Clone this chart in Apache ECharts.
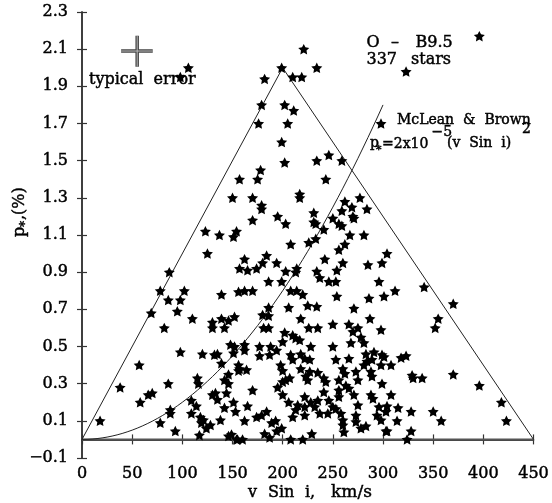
<!DOCTYPE html>
<html><head><meta charset="utf-8">
<script src="https://cdn.jsdelivr.net/npm/echarts@6/dist/echarts.min.js"></script>
<style>html,body{margin:0;padding:0;background:#fff}#c{width:552px;height:503px}</style>
</head><body><div id="c"></div>
<script>
// ---- data ----
const xTicks = [0,50,100,150,200,250,300,350,400,450];
const yTicks = [-0.1,0.1,0.3,0.5,0.7,0.9,1.1,1.3,1.5,1.7,1.9,2.1,2.3];
const triangle = [[0,0],[200,2.0],[450,0]];
const baseline = [[0,0],[450,0]];
const mcleanCoef = 2e-5;         // p* = 2x10^-5 (v sin i)^2
const mcleanVmax = 300;
const errH = [[39,2.09],[70.5,2.09]];
const errV = [[55,2.006],[55,2.172]];
const starPoints = [
[106,2.0],[98,1.95],
[221,2.1],[199,2.0],[234,2.0],[182,1.94],[210,1.95],[219,1.95],[179,1.80],[202,1.80],[211,1.77],[176,1.70],[205,1.70],[199,1.60],[298,1.70],[234,1.50],[246,1.53],[259,1.50],[202,1.49],
[396,2.17],[323,1.98],
[157,1.40],[150,1.30],[123,1.12],[137,1.10],[154,1.12],[151,1.09],[125,1.0],[157,0.92],[87,0.90],[78,0.80],[102,0.80],[86,0.75],[98,0.75],[139,0.78],[156,0.795],
[178,1.45],[175,1.40],[243,1.40],[170,1.30],[179,1.26],[179,1.24],[217,1.32],[217,1.30],[170,1.18],[195,1.20],[203,1.16],[231,1.22],[231,1.17],[233,1.16],[262,1.28],[269,1.25],[277,1.30],[284,1.24],[259,1.23],[270,1.20],[271,1.19],[250,1.19],[256,1.16],[259,1.15],[241,1.13],[233,1.08],[226,1.06],[208,1.05],[267,1.10],[281,1.10],[262,1.05],[256,1.02],[304,1.0],[184,0.99],[162,0.97],[180,0.95],[174,0.92],[194,0.95],[242,0.97],[260,0.95],[254,0.91],[214,0.92],[213,0.90],[203,0.905],[234,0.905],[237,0.87],[246,0.85],[253,0.85],[285,0.94],[299,0.95],[296,0.85],[186,0.85],[199,0.85],[165,0.91],[162,0.80],[170,0.80],[208,0.80],[214,0.80],[220,0.78],[254,0.77],[286,0.76],[301,0.77],[186,0.71],[206,0.71],[225,0.72],[234,0.715],[271,0.705],
[312,0.80],[341,0.82],[370,0.73],
[69,0.68],[95,0.69],[110,0.65],[130,0.63],[130,0.60],[139,0.65],[146,0.64],[152,0.66],[142,0.60],[82,0.60],[98,0.47],[120,0.46],[132,0.455],[135,0.46],[148,0.51],[152,0.50],[151,0.465],[139,0.41],[156,0.40],[146,0.35],[142,0.32],[146,0.30],[57,0.40],[38,0.28],[58,0.20],[66,0.24],[70,0.25],[86,0.30],[115,0.33],[116,0.30],[109,0.21],[114,0.18],[130,0.24],[133,0.25],[135,0.215],[144,0.25],[151,0.20],[142,0.17],[153,0.15],[88,0.16],[88,0.14],[109,0.14],[118,0.12],[119,0.09],[121,0.105],[128,0.077],[124,0.06],[138,0.104],[78,0.09],[93,0.045],[117,0.023],[146,0.018],[149,0.027],[155,0.0],[18,0.10],[156,0.37],
[180,0.67],[186,0.665],[218,0.65],[250,0.62],[266,0.62],[287,0.65],[181,0.60],[186,0.60],[226,0.60],[235,0.60],[275,0.60],[298,0.59],[270,0.58],[202,0.575],[210,0.56],[213,0.545],[217,0.535],[200,0.525],[278,0.55],[281,0.52],[162,0.51],[162,0.48],[177,0.50],[188,0.50],[194,0.48],[177,0.45],[187,0.455],[208,0.455],[218,0.46],[228,0.50],[222,0.435],[210,0.43],[227,0.43],[250,0.50],[268,0.52],[283,0.46],[291,0.47],[299,0.455],[253,0.43],[266,0.435],[284,0.42],[289,0.43],[298,0.40],[281,0.40],[157,0.38],[164,0.375],[198,0.40],[200,0.37],[218,0.38],[227,0.365],[235,0.36],[260,0.38],[262,0.355],[273,0.365],[288,0.365],[289,0.34],[275,0.32],[256,0.32],[223,0.34],[225,0.32],[241,0.33],[243,0.31],[200,0.31],[207,0.33],[203,0.32],[263,0.29],[299,0.30],[195,0.28],[170,0.265],[200,0.24],[222,0.23],[241,0.255],[256,0.265],[266,0.275],[271,0.24],[256,0.23],[288,0.24],[290,0.22],[206,0.20],[215,0.185],[222,0.175],[228,0.20],[235,0.21],[246,0.21],[250,0.175],[232,0.175],[213,0.16],[222,0.13],[210,0.12],[237,0.14],[245,0.14],[253,0.165],[258,0.14],[260,0.104],[261,0.04],[260,0.077],[275,0.185],[273,0.13],[273,0.095],[278,0.06],[283,0.072],[296,0.175],[294,0.13],[298,0.104],[303,0.15],[303,0.045],[165,0.18],[162,0.10],[174,0.12],[179,0.13],[184,0.15],[193,0.10],[189,0.09],[199,0.06],[194,0.045],[182,0.03],[187,0.01],[208,0.0],[220,0.0],[229,0.03],[160,0.0],
[154,0.0],[324,0.0],
[355,0.65],[352,0.60],[318,0.44],[323,0.45],[308,0.40],[301,0.445],[329,0.345],[330,0.33],[339,0.33],[370,0.35],[396,0.29],[308,0.24],[304,0.18],[315,0.17],[328,0.15],[350,0.15],[314,0.10],[358,0.10],[304,0.045],[328,0.045],[418,0.20],[423,0.10]
];

// model curve from the labelled relation
const curve = [];
for (let v = 0; v <= mcleanVmax; v += 5) curve.push([v, mcleanCoef * v * v]);

const FONT = 'DejaVu Serif';
const STAR = 'path://M0,-10 L2.94,-4.05 L9.51,-3.09 L4.76,1.55 L5.88,8.09 L0,5 L-5.88,8.09 L-4.76,1.55 L-9.51,-3.09 L-2.94,-4.05 Z';
const fmtY = v => { const s = (Math.round(v*10)/10).toFixed(1); return s.replace('-', '\u2212'); };

const chart = echarts.init(document.getElementById('c'), null, {renderer:'canvas'});
const axisLine = {lineStyle:{color:'#333', width:1.5}};
const tick = {show:true, inside:true, length:5, lineStyle:{color:'#333', width:1.2}};
const txt = (x, y, text, size, extra) => ({type:'text', x, y, z:10, style:Object.assign({text, font: size + 'px "' + FONT + '"', fill:'#000', stroke:'#000', lineWidth:0.45, verticalAlign:'middle'}, extra||{})});
const lbl = {fontFamily:FONT, fontSize:16, color:'#000', textBorderColor:'#000', textBorderWidth:0.45};
chart.setOption({
  animation:false,
  backgroundColor:'#fff',
  grid:{left:82, right:17, top:12, bottom:45},
  xAxis:[
    {type:'value', min:0, max:450, interval:50, axisLine, axisTick:tick,
     axisLabel:Object.assign({margin:8}, lbl), splitLine:{show:false}},
    {type:'value', position:'top', min:0, max:450, interval:50, axisLine, axisTick:tick,
     axisLabel:{show:false}, splitLine:{show:false}}
  ],
  yAxis:[
    {type:'value', min:-0.1, max:2.3, interval:0.2, axisLine:{show:true, lineStyle:{color:'#333', width:1.5}}, axisTick:tick,
     axisLabel:Object.assign({margin:14, formatter:fmtY}, lbl), splitLine:{show:false}},
    {type:'value', position:'right', min:-0.1, max:2.3, interval:0.2, axisLine:{show:true, lineStyle:{color:'#333', width:1.5}}, axisTick:tick,
     axisLabel:{show:false}, splitLine:{show:false}}
  ],
  series:[
    {type:'line', data:baseline, symbol:'none', lineStyle:{color:'#555', width:2}, z:2},
    {type:'line', data:triangle, symbol:'none', lineStyle:{color:'#222', width:1}, z:2},
    {type:'line', data:curve, symbol:'none', lineStyle:{color:'#222', width:1}, z:2},
    {type:'line', data:errH, symbol:'none', lineStyle:{color:'#444', width:3.5}, z:2},
    {type:'line', data:errV, symbol:'none', lineStyle:{color:'#444', width:3.5}, z:2},
    {type:'line', data:errH, symbol:'none', lineStyle:{color:'#bbb', width:1}, z:3},
    {type:'line', data:errV, symbol:'none', lineStyle:{color:'#bbb', width:1}, z:3},
    {type:'scatter', data:starPoints, symbol:STAR, symbolSize:[11,10.5], itemStyle:{color:'#000', opacity:1}, z:5}
  ],
  graphic:[
    txt(89, 80, 'typical  error', 16),
    txt(366.5, 43, 'O', 16),
    txt(391, 43, '\u2013', 16),
    txt(415.5, 43, 'B9.5', 16),
    txt(366.5, 60, '337', 16),
    txt(411, 60, 'stars', 16),
    txt(397, 120, 'McLean  &  Brown', 14),
    txt(370, 143, 'p', 14),
    txt(376, 150, '*', 11),
    txt(382, 144, '=2x10', 14),
    txt(431.5, 132, '\u22125', 14),
    txt(447, 143, '(v  Sin  i)', 14),
    txt(522, 129.5, '2', 14),
    txt(248, 492.5, 'v', 16),
    txt(268, 492.5, 'Sin', 16),
    txt(305, 492.5, 'i,', 16),
    txt(331, 492.5, 'km/s', 17),
    {type:'group', x:20, y:215, rotation:Math.PI/2, children:[
      txt(-22, 0, 'p', 16),
      txt(-12, 6, '*', 12),
      txt(-5, 0, ',(%)', 16)
    ]}
  ]
});
</script></body></html>
